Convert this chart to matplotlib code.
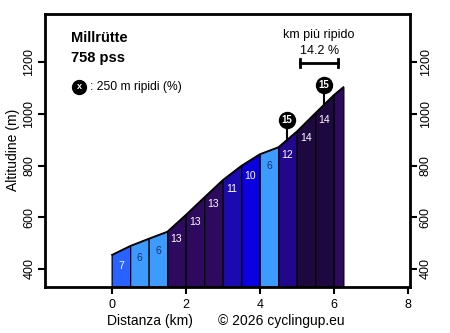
import matplotlib
matplotlib.use("Agg")
import matplotlib.pyplot as plt
import numpy as np

plt.rcParams['font.family'] = ['Liberation Sans', 'DejaVu Sans']

# ---- data ----
dist = [0.0, 0.5, 1.0, 1.5, 2.0, 2.5, 3.0, 3.5, 4.0, 4.5, 5.0, 5.5, 6.0, 6.26]
elev = [455, 490, 518, 545, 610, 678, 745, 800, 845, 872, 933, 1004, 1074, 1105]
grades = [7, 6, 6, 13, 13, 13, 11, 10, 6, 12, 14, 14, None]
colors = ['#2a62ff', '#3d9aff', '#3d9aff', '#2e0a5f', '#2e0a5f', '#2e0a5f',
          '#1a0ab0', '#0a00e0', '#3d9aff', '#22068c', '#1e0840', '#1e0840', '#2e0a5f']
steep_km = [4.73, 5.73]
steep_grade = [15, 15]
steepest_km = (5.1, 6.12)
steepest_grade = 14.2
title = "Millrütte"
score = "758 pss"
xticks = [0, 2, 4, 6, 8]
yticks = [400, 600, 800, 1000, 1200]

fig = plt.figure(figsize=(4.5, 3.33), dpi=100)
ax = fig.add_axes([45/450, 1-286.7/333, 365/450, 272.7/333])
xmin, xmax = -1.80, 8.06
ymin, ymax = 331.5, 1386.8
ax.set_xlim(xmin, xmax)
ax.set_ylim(ymin, ymax)

light = {'#3d9aff'}
for i in range(len(dist) - 1):
    x0, x1 = dist[i], dist[i+1]
    e0, e1 = elev[i], elev[i+1]
    ax.fill_between([x0, x1], [e0, e1], ymin, facecolor=colors[i],
                    edgecolor='black', linewidth=0.9, zorder=2)
    if grades[i] is not None:
        tc = '#1c3566' if colors[i] in light else 'white'
        ax.annotate(str(grades[i]), ((x0 + x1) / 2, (e0 + e1) / 2),
                    xytext=(0, -11.5), textcoords='offset points',
                    ha='center', va='center', fontsize=7.5, color=tc, zorder=4)
ax.plot(dist, elev, color='black', lw=0.9, zorder=3)

# steep 250 m markers
for km, g in zip(steep_km, steep_grade):
    base = np.interp(km, dist, elev)
    top = base + 75
    ax.plot([km, km], [base, top], color='black', lw=1.5, zorder=4)
    ax.plot([km], [top], marker='o', ms=11.5, color='black', zorder=5)
    ax.text(km, top, str(g), color='white', fontsize=7, fontweight='bold',
            ha='center', va='center', zorder=6)

# legend marker
ax.plot([0.094], [0.733], marker='o', ms=10, color='black', transform=ax.transAxes,
        clip_on=False, zorder=5)
ax.text(0.094, 0.735, 'x', color='white', fontsize=6.5, fontweight='bold',
        ha='center', va='center', transform=ax.transAxes, zorder=6)
ax.text(0.123, 0.733, ': 250 m ripidi (%)', fontsize=8.7, ha='left', va='center',
        transform=ax.transAxes)

# title
ax.text(0.070, 0.911, title, fontsize=10.5, fontweight='bold', ha='left', va='center',
        transform=ax.transAxes)
ax.text(0.070, 0.837, score, fontsize=10.5, fontweight='bold', ha='left', va='center',
        transform=ax.transAxes)

# steepest km
ax.text(0.751, 0.923, 'km più ripido', fontsize=9, ha='center', va='center',
        transform=ax.transAxes)
ax.text(0.751, 0.866, f'{steepest_grade} %', fontsize=9, ha='center', va='center',
        transform=ax.transAxes)
ymark = 1197
ax.plot(list(steepest_km), [ymark, ymark], color='black', lw=2, zorder=4)
for xx in steepest_km:
    ax.plot([xx, xx], [ymark - 15, ymark + 15], color='black', lw=2, zorder=4)

# axes styling
for s in ax.spines.values():
    s.set_linewidth(2)
ax.set_xticks(xticks)
ax.set_yticks(yticks)
ax.tick_params(axis='both', direction='out', length=5, width=1.5, labelsize=9)
ax.tick_params(axis='y', left=True, right=True, labelleft=True, labelright=True)
for lab in ax.get_yticklabels():
    lab.set_rotation(90)
    lab.set_va('center')
ax.tick_params(axis='y', pad=2)

fig.text(150/450, 1-321/333, 'Distanza (km)', fontsize=10, ha='center', va='center')
fig.text(281/450, 1-321/333, '© 2026 cyclingup.eu', fontsize=10, ha='center', va='center')
fig.text(13.3/450, 1-150/333, 'Altitudine (m)', fontsize=10, ha='center', va='center',
         rotation=90)

fig.savefig('out.png', dpi=100)
